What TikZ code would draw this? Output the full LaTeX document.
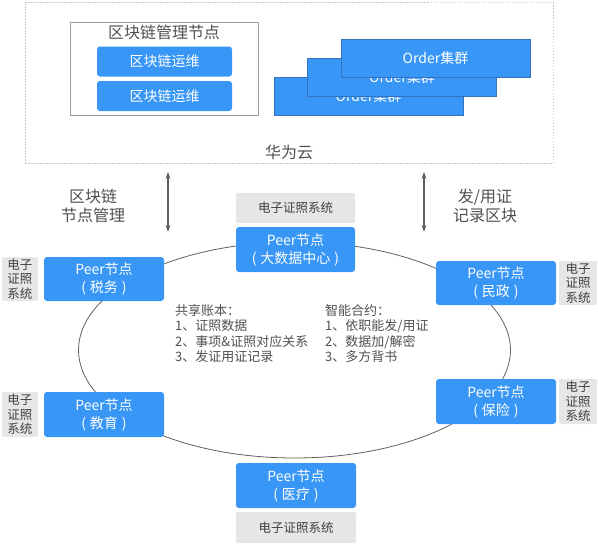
\documentclass[tikz,border=0pt]{standalone}
\usepackage{fontspec}
\setmainfont{Noto Sans CJK SC}
\usetikzlibrary{arrows.meta}
\definecolor{pblue}{HTML}{3796F6}
\definecolor{oborder}{HTML}{3572BE}
\definecolor{gfill}{HTML}{E5E6E7}
\definecolor{gtext}{HTML}{404040}
\definecolor{ltext}{HTML}{505050}
\definecolor{dashc}{HTML}{C8C8C8}
\definecolor{mgbox}{HTML}{9C9C9C}
\definecolor{arrc}{HTML}{606060}
\newcommand{\pn}[1]{(\hspace{4pt}#1\hspace{4pt})}
\begin{document}
\begin{tikzpicture}[x=1pt,y=-1pt,
  peer/.style={fill=pblue, rounded corners=3pt, text=white, font=\fontsize{14}{18}\selectfont, align=center, minimum width=120pt, minimum height=45pt, inner sep=0pt},
  grayb/.style={fill=gfill, rounded corners=2pt, text=gtext, font=\fontsize{12.5}{14.5}\selectfont, align=center, inner sep=0pt},
  order/.style={fill=pblue, draw=oborder, line width=0.8pt, text=white, font=\fontsize{14}{16}\selectfont, minimum width=189pt, minimum height=38pt, inner sep=0pt},
  opsbtn/.style={fill=pblue, rounded corners=3pt, text=white, font=\fontsize{14}{16}\selectfont, minimum width=135pt, minimum height=30pt, inner sep=0pt},
  label/.style={text=ltext, font=\fontsize{16}{19}\selectfont, align=center, inner sep=0pt},
  block/.style={text=ltext, font=\fontsize{13}{15.2}\selectfont, align=left, inner sep=0pt, anchor=west},
  ring/.style={draw=arrc, line width=0.8pt},
  dbl/.style={draw=arrc, line width=1.2pt, {Stealth[length=7pt,width=5pt]}-{Stealth[length=7pt,width=5pt]}}
]
\useasboundingbox (0,0) rectangle (598,544);
% cloud box
\node[draw=dashc, dash pattern=on 1.5pt off 1.5pt, line width=0.7pt, minimum width=528pt, minimum height=161pt, inner sep=0pt] (cloud) at (289,82.5) {};
\node[label] (hw) at (289,152) {华为云};
% management box
\node[draw=mgbox, line width=1pt, minimum width=188pt, minimum height=93pt, inner sep=0pt] (mg) at (164,68.5) {};
\node[label] (mgt) at (164,32) {区块链管理节点};
\node[opsbtn] (ops1) at (164.5,61.5) {区块链运维};
\node[opsbtn] (ops2) at (164.5,96) {区块链运维};
% order cluster
\node[order] (ord3) at (368.5,96) {Order集群};
\node[order] (ord2) at (402,77) {Order集群};
\node[order] (ord1) at (435.5,58) {Order集群};
% arrows
\coordinate (la1) at (168,172);
\coordinate (la2) at (168,232);
\coordinate (ra1) at (424,172);
\coordinate (ra2) at (424,232);
\draw[dbl] (la1) -- (la2);
\draw[dbl] (ra1) -- (ra2);
\node[label] (lmg) at (93,206) {区块链\\节点管理};
\node[label] (rmg) at (485,206) {发/用证\\记录区块};
% ring
\draw[ring] (294.5,350) ellipse [x radius=216, y radius=108];
% peers
\node[grayb, minimum width=119pt, minimum height=30pt] (gbig) at (295.5,208) {电子证照系统};
\node[peer, minimum width=119pt] (pbig) at (295.5,249.5) {Peer节点\\\pn{大数据中心}};
\node[peer, minimum height=44pt] (ptax) at (104,279) {Peer节点\\\pn{税务}};
\node[grayb, minimum width=36pt, minimum height=44pt] (gtax) at (20,279) {电子\\证照\\系统};
\node[peer, minimum height=44pt] (pciv) at (496,283) {Peer节点\\\pn{民政}};
\node[grayb, minimum width=38pt, minimum height=44pt] (gciv) at (578,283) {电子\\证照\\系统};
\node[peer] (pedu) at (104,414.5) {Peer节点\\\pn{教育}};
\node[grayb, minimum width=36pt, minimum height=45pt] (gedu) at (20,414.5) {电子\\证照\\系统};
\node[peer] (pins) at (496,401.5) {Peer节点\\\pn{保险}};
\node[grayb, minimum width=38pt, minimum height=45pt] (gins) at (578,401.5) {电子\\证照\\系统};
\node[peer] (pmed) at (296,485.5) {Peer节点\\\pn{医疗}};
\node[grayb, minimum width=120pt, minimum height=31pt] (gmed) at (296,527.5) {电子证照系统};
% text blocks
\node[block] (ledger) at (175,333.5) {共享账本：\\1、证照数据\\2、事项\&证照对应关系\\3、发证用证记录};
\node[block] (contract) at (325,333.5) {智能合约：\\1、依职能发/用证\\2、数据加/解密\\3、多方背书};
\end{tikzpicture}
\end{document}
